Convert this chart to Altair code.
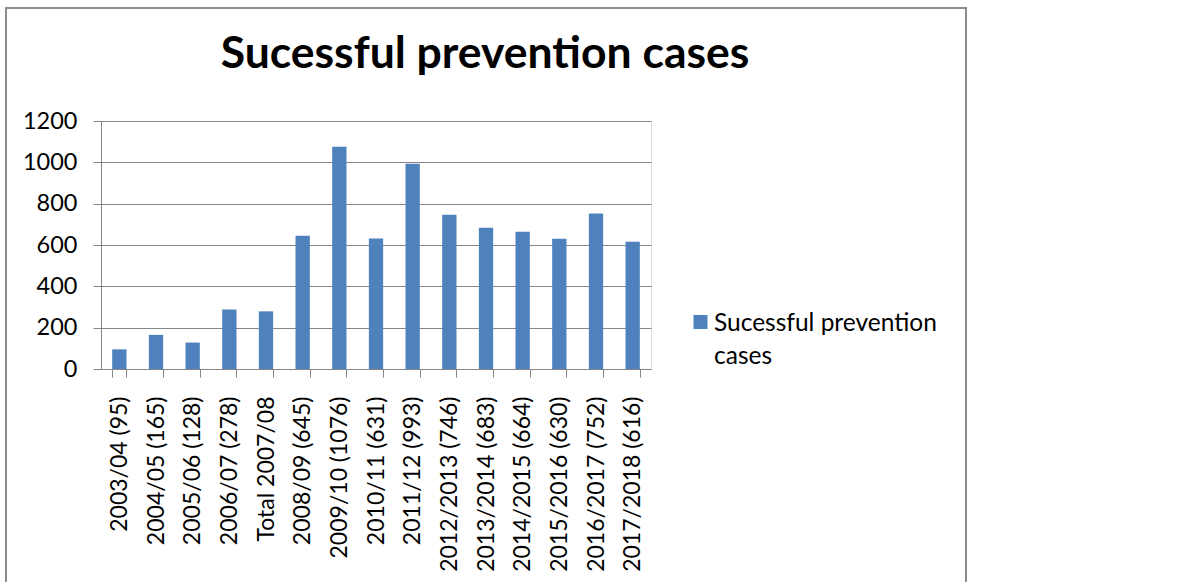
import altair as alt
import pandas as pd

# ---- data ----
categories = [
    "2003/04 (95)", "2004/05 (165)", "2005/06 (128)", "2006/07 (278)",
    "Total 2007/08", "2008/09 (645)", "2009/10 (1076)", "2010/11 (631)",
    "2011/12 (993)", "2012/2013 (746)", "2013/2014 (683)", "2014/2015 (664)",
    "2015/2016 (630)", "2016/2017 (752)", "2017/2018 (616)",
]
values = [95, 165, 128, 288, 279, 645, 1076, 631, 993, 746, 683, 664, 630, 752, 616]
title_text = "Sucessful prevention cases"
series_name = "Sucessful prevention cases"
legend_lines = ["Sucessful prevention", "cases"]
y_ticks = [0, 200, 400, 600, 800, 1000, 1200]

df = pd.DataFrame({"period": categories, "cases": values})

FONT = "Lato"
BLUE = "#4F81BD"
GRID = "#868686"
BORDER = "#8C8C8C"
W, H = 550, 248

bars = alt.Chart(df).mark_bar(color=BLUE).encode(
    x=alt.X(
        "period:N", sort=categories, title=None,
        scale=alt.Scale(paddingInner=0.61, paddingOuter=0.305),
        axis=alt.Axis(
            labelAngle=270, labelAlign="right", labelBaseline="middle",
            tickBand="extent", tickSize=8, tickColor=GRID, domainColor=GRID,
            labelPadding=19, labelFontSize=23, labelFont=FONT, labelColor="black",
            grid=False, labelOverlap=False,
        ),
    ),
    y=alt.Y(
        "cases:Q", title=None,
        scale=alt.Scale(domain=[0, 1200], nice=False),
        axis=alt.Axis(
            values=y_ticks, format="d", tickSize=8, tickColor=GRID, domainColor=GRID,
            gridColor=GRID, gridWidth=1, labelPadding=16, labelFontSize=23.5,
            labelFont=FONT, labelColor="black",
        ),
    ),
)

one = pd.DataFrame({"k": [0]})
left_border = alt.Chart(one).mark_rule(color=BORDER, strokeWidth=2).encode(
    x=alt.value(-95), y=alt.value(-113), y2=alt.value(461))
right_border = alt.Chart(one).mark_rule(color=BORDER, strokeWidth=2).encode(
    x=alt.value(865), y=alt.value(-113), y2=alt.value(461))
top_border = alt.Chart(one).mark_rule(color=BORDER, strokeWidth=2).encode(
    x=alt.value(-96), x2=alt.value(866), y=alt.value(-113))

title_df = pd.DataFrame({"t": [title_text]})
title_mark = alt.Chart(title_df).mark_text(
    align="center", baseline="alphabetic", fontSize=44.5, font=FONT,
    fontWeight="bold", color="black").encode(
    x=alt.value(384), y=alt.value(-53), text="t:N")

leg_df = pd.DataFrame({"series": [series_name]})
legend_symbol = alt.Chart(leg_df).mark_square(size=196, color=BLUE, opacity=1).encode(
    x=alt.value(599.5), y=alt.value(201))
legend_text = alt.Chart(leg_df).mark_text(
    align="left", baseline="alphabetic", fontSize=24.5, font=FONT,
    lineHeight=33, color="black").encode(
    x=alt.value(613), y=alt.value(210), text=alt.value(legend_lines))

chart = alt.layer(
    bars, left_border, right_border, top_border, title_mark,
    legend_symbol, legend_text
).properties(
    width=W, height=H,
    padding={"left": 4, "top": 7, "right": 0, "bottom": 0},
).configure_view(stroke=None).configure(background="white")

chart.save("out.html", embed_options={"renderer": "svg", "actions": False})
